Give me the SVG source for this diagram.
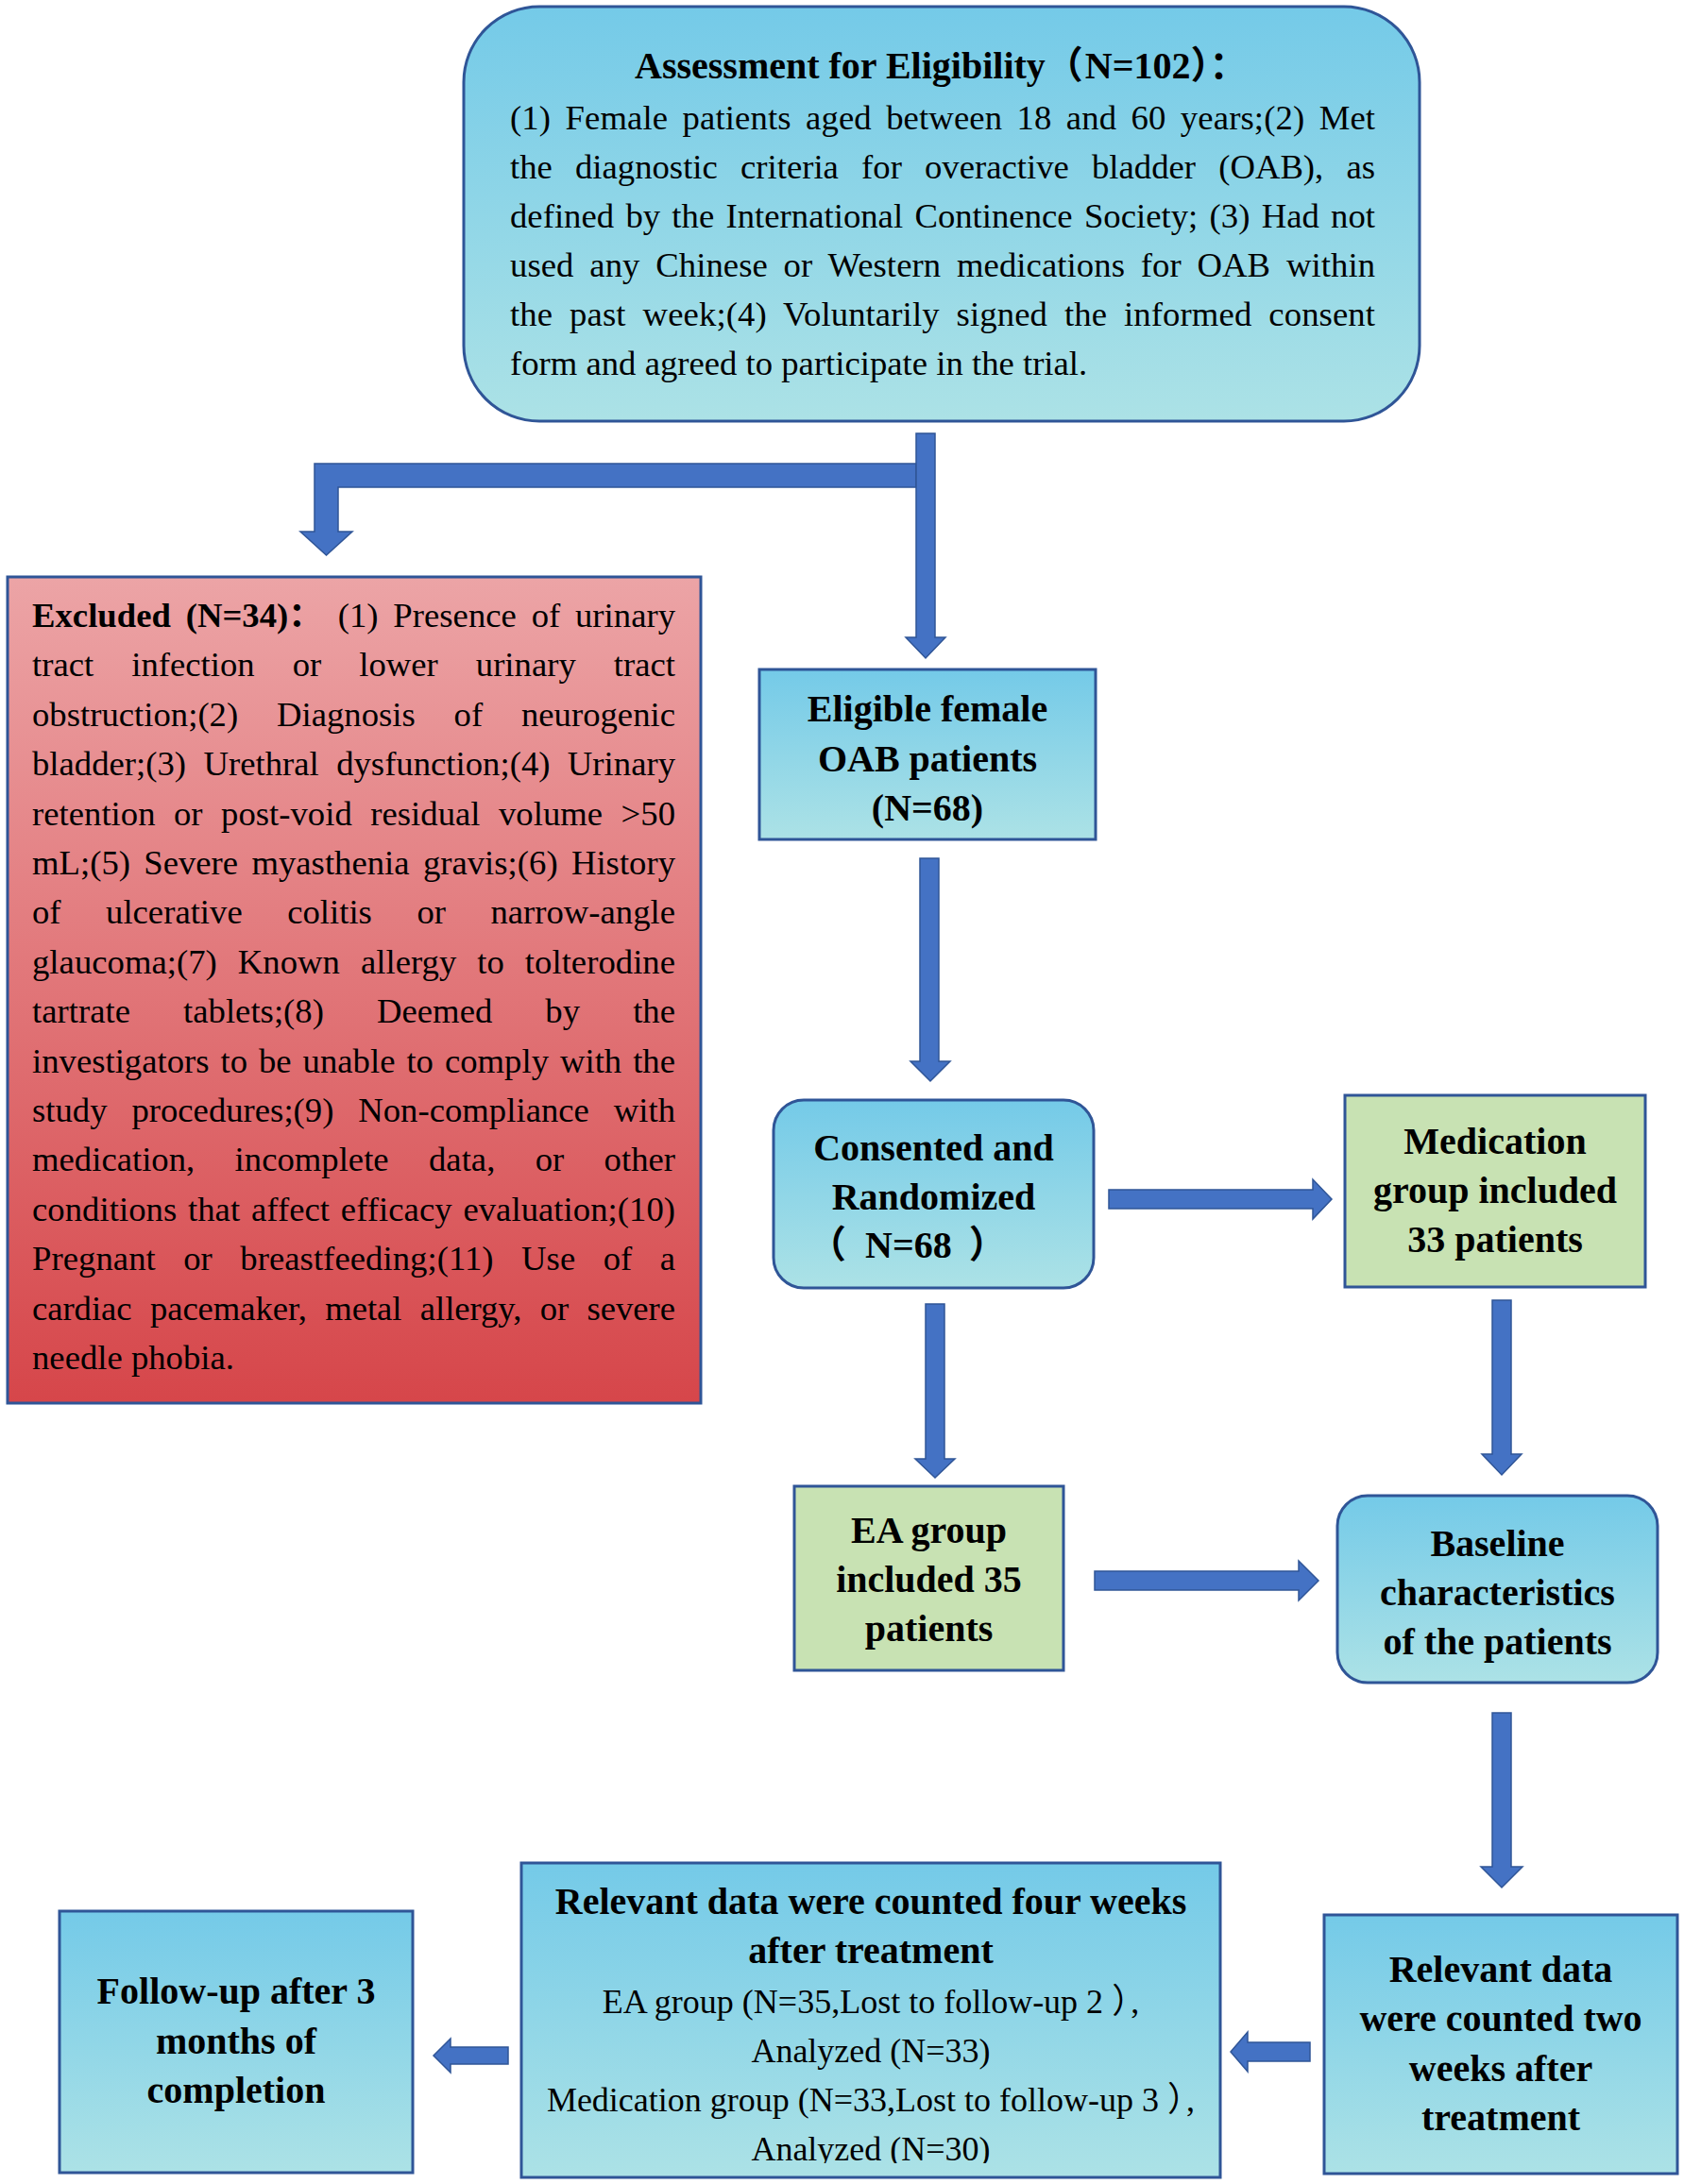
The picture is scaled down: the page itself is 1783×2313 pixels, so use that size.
<svg xmlns="http://www.w3.org/2000/svg" width="1783" height="2313" viewBox="0 0 1783 2313">
<defs>
<linearGradient id="gBlue" x1="0" y1="0" x2="0" y2="1"><stop offset="0" stop-color="#74cae8"/><stop offset="1" stop-color="#ace2e6"/></linearGradient>
<linearGradient id="gRed" x1="0" y1="0" x2="0" y2="1"><stop offset="0" stop-color="#eca4a6"/><stop offset="1" stop-color="#d6464a"/></linearGradient>
<clipPath id="clipLast"><rect x="552" y="1973" width="740" height="318"/></clipPath>
</defs>
<style>
.box{stroke:#2f5597;stroke-width:3}
.blue{fill:url(#gBlue)}
.green{fill:#c8e2b3}
.red{fill:url(#gRed)}
.t{font-family:"Liberation Serif","Times New Roman","Noto Sans CJK SC",serif;fill:#000}
.r{font-size:36.7px}
.rs{font-size:36px}
.b{font-weight:bold;font-size:40px}
.c{text-anchor:middle}
.arr{fill:#4472c4;stroke:#2f5597;stroke-width:1.5}
.tight{letter-spacing:-16px}
</style>
<rect width="1783" height="2313" fill="#ffffff"/>

<g id="connectors">
<polygon class="arr" points="970,491 970,516 358,516 358,563 373,563 345.5,588 318,563 333,563 333,491"/>
<polygon class="arr" points="970,459 990,459 990,675 1001,675 980,697 959,675 970,675"/>
<polygon class="arr" points="974,909 994,909 994,1124 1006,1124 985,1145 964,1124 974,1124"/>
<polygon class="arr" points="1174,1260 1390,1260 1390,1249 1410,1270 1390,1291 1390,1280 1174,1280"/>
<polygon class="arr" points="980,1381 1000,1381 1000,1545 1011,1545 990,1565 969,1545 980,1545"/>
<polygon class="arr" points="1580,1377 1600,1377 1600,1540 1611,1540 1590,1562 1569,1540 1580,1540"/>
<polygon class="arr" points="1159,1664 1375,1664 1375,1653 1396,1674 1375,1695 1375,1684 1159,1684"/>
<polygon class="arr" points="1580,1814 1600,1814 1600,1977 1612,1977 1590,1999 1568,1977 1580,1977"/>
<polygon class="arr" points="1387,2163 1387,2183 1321,2183 1321,2194 1303,2173 1321,2152 1321,2163"/>
<polygon class="arr" points="538,2168 538,2186 477,2186 477,2195 459,2177 477,2159 477,2168"/>
</g>

<g id="assessment">
<rect class="box blue" x="491" y="7" width="1012" height="439" rx="80" ry="80"/>
<text class="t b" x="672" y="83">Assessment for Eligibility（<tspan dx="2">N=102</tspan>）：</text>
<text class="t r" x="540" y="137" style="word-spacing:6.1px" textLength="916" lengthAdjust="spacing">(1) Female patients aged between 18 and 60 years;(2) Met</text>
<text class="t r" x="540" y="189" style="word-spacing:15px" textLength="916" lengthAdjust="spacing">the diagnostic criteria for overactive bladder (OAB), as</text>
<text class="t r" x="540" y="241" style="word-spacing:3.1px" textLength="916" lengthAdjust="spacing">defined by the International Continence Society; (3) Had not</text>
<text class="t r" x="540" y="293" style="word-spacing:7.5px" textLength="916" lengthAdjust="spacing">used any Chinese or Western medications for OAB within</text>
<text class="t r" x="540" y="345" style="word-spacing:8.7px" textLength="916" lengthAdjust="spacing">the past week;(4) Voluntarily signed the informed consent</text>
<text class="t r" x="540" y="397">form and agreed to participate in the trial.</text>
</g>

<g id="excluded">
<rect class="box red" x="8" y="611" width="734" height="875"/>
<text class="t r" x="34" y="664" style="word-spacing:6.6px" textLength="681" lengthAdjust="spacing"><tspan font-weight="bold">Excluded (N=34)：</tspan> (1) Presence of urinary</text>
<text class="t r" x="34" y="716.4" style="word-spacing:30.8px" textLength="681" lengthAdjust="spacing">tract infection or lower urinary tract</text>
<text class="t r" x="34" y="768.8" style="word-spacing:31.6px" textLength="681" lengthAdjust="spacing">obstruction;(2) Diagnosis of neurogenic</text>
<text class="t r" x="34" y="821.2" style="word-spacing:9.2px" textLength="681" lengthAdjust="spacing">bladder;(3) Urethral dysfunction;(4) Urinary</text>
<text class="t r" x="34" y="873.6" style="word-spacing:10.3px" textLength="681" lengthAdjust="spacing">retention or post-void residual volume &gt;50</text>
<text class="t r" x="34" y="926" style="word-spacing:5.1px" textLength="681" lengthAdjust="spacing">mL;(5) Severe myasthenia gravis;(6) History</text>
<text class="t r" x="34" y="978.4" style="word-spacing:38.3px" textLength="681" lengthAdjust="spacing">of ulcerative colitis or narrow-angle</text>
<text class="t r" x="34" y="1030.8" style="word-spacing:12.8px" textLength="681" lengthAdjust="spacing">glaucoma;(7) Known allergy to tolterodine</text>
<text class="t r" x="34" y="1083.2" style="word-spacing:46.9px" textLength="681" lengthAdjust="spacing">tartrate tablets;(8) Deemed by the</text>
<text class="t r" x="34" y="1135.6" style="word-spacing:2.8px" textLength="681" lengthAdjust="spacing">investigators to be unable to comply with the</text>
<text class="t r" x="34" y="1188" style="word-spacing:16.7px" textLength="681" lengthAdjust="spacing">study procedures;(9) Non-compliance with</text>
<text class="t r" x="34" y="1240.4" style="word-spacing:33.2px" textLength="681" lengthAdjust="spacing">medication, incomplete data, or other</text>
<text class="t r" x="34" y="1292.8" style="word-spacing:2.6px" textLength="681" lengthAdjust="spacing">conditions that affect efficacy evaluation;(10)</text>
<text class="t r" x="34" y="1345.2" style="word-spacing:20.2px" textLength="681" lengthAdjust="spacing">Pregnant or breastfeeding;(11) Use of a</text>
<text class="t r" x="34" y="1397.6" style="word-spacing:10.3px" textLength="681" lengthAdjust="spacing">cardiac pacemaker, metal allergy, or severe</text>
<text class="t r" x="34" y="1450">needle phobia.</text>
</g>

<g id="eligible">
<rect class="box blue" x="804" y="709" width="356" height="180"/>
<text class="t b c" x="982" y="764">Eligible female</text>
<text class="t b c" x="982" y="817">OAB patients</text>
<text class="t b c" x="982" y="869">(N=68)</text>
</g>

<g id="consented">
<rect class="box blue" x="819" y="1165" width="339" height="199" rx="32" ry="32"/>
<text class="t b c" x="988.5" y="1229">Consented and</text>
<text class="t b c" x="988.5" y="1281">Randomized</text>
<text class="t b" x="856" y="1332">（<tspan dx="20">N=68</tspan><tspan dx="18">）</tspan></text>
</g>

<g id="medication">
<rect class="box green" x="1424" y="1160" width="318" height="203"/>
<text class="t b c" x="1583" y="1222">Medication</text>
<text class="t b c" x="1583" y="1274">group included</text>
<text class="t b c" x="1583" y="1326">33 patients</text>
</g>

<g id="ea">
<rect class="box green" x="841" y="1574" width="285" height="195"/>
<text class="t b c" x="983.5" y="1634">EA group</text>
<text class="t b c" x="983.5" y="1686">included 35</text>
<text class="t b c" x="983.5" y="1738">patients</text>
</g>

<g id="baseline">
<rect class="box blue" x="1416" y="1584" width="339" height="198" rx="32" ry="32"/>
<text class="t b c" x="1585.5" y="1648">Baseline</text>
<text class="t b c" x="1585.5" y="1700">characteristics</text>
<text class="t b c" x="1585.5" y="1752">of the patients</text>
</g>

<g id="twoweeks">
<rect class="box blue" x="1402" y="2028" width="374" height="274"/>
<text class="t b c" x="1589" y="2099">Relevant data</text>
<text class="t b c" x="1589" y="2151">were counted two</text>
<text class="t b c" x="1589" y="2204">weeks after</text>
<text class="t b c" x="1589" y="2256">treatment</text>
</g>

<g id="fourweeks">
<rect class="box blue" x="552" y="1973" width="740" height="333"/>
<text class="t b c" x="922" y="2027">Relevant data were counted four weeks</text>
<text class="t b c" x="922" y="2079">after treatment</text>
<text class="t rs c" x="922" y="2132">EA group (N=35,Lost to follow-up 2 <tspan class="tight">）</tspan>,</text>
<text class="t rs c" x="922" y="2184">Analyzed (N=33)</text>
<text class="t rs c" x="922" y="2236">Medication group (N=33,Lost to follow-up 3 <tspan class="tight">）</tspan>,</text>
<text class="t rs c" x="922" y="2288" clip-path="url(#clipLast)">Analyzed (N=30)</text>
</g>

<g id="followup">
<rect class="box blue" x="63" y="2024" width="374" height="277"/>
<text class="t b c" x="250" y="2122">Follow-up after 3</text>
<text class="t b c" x="250" y="2175">months of</text>
<text class="t b c" x="250" y="2227">completion</text>
</g>
</svg>
